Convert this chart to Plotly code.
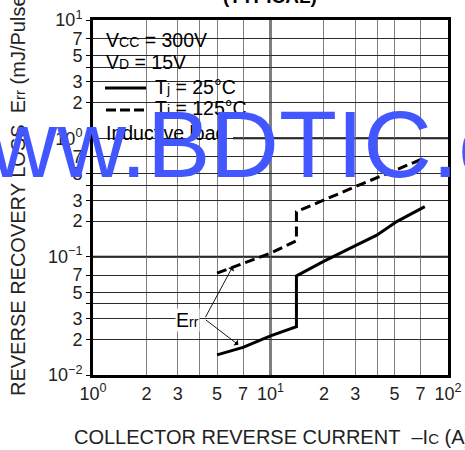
import math
import plotly.graph_objects as go

# ---------------- data ----------------
ic_25 = [5, 7, 10, 14, 14, 19.8, 29.3, 39.7, 51.4, 74]
err_25 = [0.0148, 0.0171, 0.0214, 0.0256, 0.0687, 0.0908, 0.1216, 0.152, 0.198, 0.265]
ic_125 = [5, 10, 14, 14, 30, 71]
err_125 = [0.0725, 0.107, 0.1365, 0.240, 0.39, 0.665]

x_tickvals = [1, 2, 3, 4, 5, 7, 10, 20, 30, 40, 50, 70, 100]
x_ticktext = ["10<sup>0</sup>", "2", "3", "", "5", "7", "10<sup>1</sup>",
              "2", "3", "", "5", "7", "10<sup>2</sup>"]
y_tickvals = [0.01, 0.02, 0.03, 0.04, 0.05, 0.07, 0.1, 0.2, 0.3, 0.4, 0.5, 0.7,
              1, 2, 3, 4, 5, 7, 10]
y_ticktext = ["10<sup>−2</sup>", "2", "3", "", "5", "7", "10<sup>−1</sup>",
              "2", "3", "", "5", "7", "10<sup>0</sup>", "2", "3", "", "5", "7",
              "10<sup>1</sup>"]
x_decades = [10]
y_decades = [0.1, 1]

# ---------------- layout geometry ----------------
W, H = 465, 450
ML, MR, MT, MB = 93, 17, 20, 75
PW, PH = W - ML - MR, H - MT - MB
XR = [0, 2]
YR = [-2, 1]
FONT = "Liberation Sans, Arial, Helvetica, sans-serif"


def px(xp):
    return (xp - ML) / PW


def py(yp):
    return (H - MB - yp) / PH


fig = go.Figure()

fig.add_trace(go.Scatter(x=ic_25, y=err_25, mode="lines",
                         line=dict(color="black", width=3), showlegend=False,
                         hoverinfo="skip"))
fig.add_trace(go.Scatter(x=ic_125, y=err_125, mode="lines",
                         line=dict(color="black", width=3, dash="10px,5px"),
                         showlegend=False, hoverinfo="skip"))

shapes = []
# decade grid lines (heavier)
for xv in x_decades:
    xp = (math.log10(xv) - XR[0]) / (XR[1] - XR[0])
    shapes.append(dict(type="line", xref="paper", yref="paper", x0=xp, x1=xp,
                       y0=0, y1=1, line=dict(color="black", width=2), layer="between"))
for yv in y_decades:
    yp = (math.log10(yv) - YR[0]) / (YR[1] - YR[0])
    shapes.append(dict(type="line", xref="paper", yref="paper", x0=0, x1=1,
                       y0=yp, y1=yp, line=dict(color="black", width=2), layer="between"))

# white legend background blocks (pixel boxes)
for (x0, y0, x1, y1) in [(94, 21, 203, 75), (94, 28, 213, 51), (94, 72, 250, 122),
                         (94, 120, 233, 145)]:
    shapes.append(dict(type="rect", xref="paper", yref="paper",
                       x0=px(x0), x1=px(x1), y0=py(y1), y1=py(y0),
                       fillcolor="white", line=dict(width=0), layer="between"))

# legend line samples
shapes.append(dict(type="line", xref="paper", yref="paper", x0=px(105), x1=px(146),
                   y0=py(88), y1=py(88), line=dict(color="black", width=3), layer="above"))
shapes.append(dict(type="line", xref="paper", yref="paper", x0=px(106), x1=px(146),
                   y0=py(110), y1=py(110), line=dict(color="black", width=3, dash="10px,4px"),
                   layer="above"))

annotations = []
small = "<span style='font-size:14px'>{}</span>"
legend_rows = [
    ("V" + small.format("CC") + " = 300V", 104, 39.5),
    ("V" + small.format("D") + " = 15V", 104, 61.7),
    ("T" + small.format("j") + " = 25°C", 153, 87.3),
    ("T" + small.format("j") + " = 125°C", 153, 108),
    ("Inductive load", 104, 132.5),
]
for txt, xl, yc in legend_rows:
    annotations.append(dict(text=txt, xref="paper", yref="paper", x=px(xl), y=py(yc),
                            xanchor="left", yanchor="middle", showarrow=False,
                            font=dict(family=FONT, size=19.5, color="black")))

# Err label with arrows
err_label_x, err_label_y = 3.41, 0.0292
arrow_tips = [(6.12, 0.0823, -28, 52), (6.59, 0.0180, -34, -26)]
for tx, ty, ax, ay in arrow_tips:
    annotations.append(dict(text="", x=math.log10(tx), y=math.log10(ty), xref="x", yref="y",
                            showarrow=True, ax=ax, ay=ay, arrowhead=1, arrowsize=1.3,
                            arrowwidth=0.9, arrowcolor="black", standoff=0))
annotations.append(dict(text="E" + small.format("rr"), x=math.log10(err_label_x),
                        y=math.log10(err_label_y), xref="x", yref="y", showarrow=False,
                        bgcolor="white", borderpad=0,
                        font=dict(family=FONT, size=19.5, color="black")))

# axis titles
annotations.append(dict(text="COLLECTOR REVERSE CURRENT\u00a0\u00a0–I"
                        + "<span style='font-size:15px'>C</span> (A)",
                        xref="paper", yref="paper", x=px(72), y=py(437), xanchor="left",
                        yanchor="middle", showarrow=False,
                        font=dict(family=FONT, size=20, color="#222")))
annotations.append(dict(text="REVERSE RECOVERY LOSS\u00a0\u00a0E"
                        + "<span style='font-size:15px'>rr</span> (mJ/Pulse)",
                        xref="paper", yref="paper", x=px(18.5), y=py(398), xanchor="center",
                        yanchor="bottom", textangle=-90, showarrow=False,
                        font=dict(family=FONT, size=20, color="#222")))
# top (cut) title
annotations.append(dict(text="<b>(TYPICAL)</b>", xref="paper", yref="paper", x=px(270),
                        y=py(-4), xanchor="center", yanchor="middle", showarrow=False,
                        font=dict(family=FONT, size=19, color="black")))
# watermark
annotations.append(dict(text="www.BDTIC.com",
                        xref="paper", yref="paper", x=px(278),
                        y=py(144), xanchor="center", yanchor="middle", showarrow=False,
                        font=dict(family=FONT, size=95, color="#4257ff")))

fig.update_layout(
    width=W, height=H, autosize=False,
    margin=dict(l=ML, r=MR, t=MT, b=MB, pad=0),
    paper_bgcolor="white", plot_bgcolor="white",
    template="none",
    shapes=shapes, annotations=annotations,
    font=dict(family=FONT, size=18, color="#222"),
    hovermode=False,
)
fig.update_xaxes(type="log", range=XR, tickmode="array", tickvals=x_tickvals,
                 ticktext=x_ticktext, showgrid=True, gridcolor="#7f7f7f", gridwidth=1.3,
                 showline=True, mirror=True, linecolor="black", linewidth=3,
                 ticks="", zeroline=False, tickfont=dict(size=18, color="#222"))
fig.update_yaxes(type="log", range=YR, tickmode="array", tickvals=y_tickvals,
                 ticktext=y_ticktext, showgrid=True, gridcolor="#2b2b2b", gridwidth=1.2,
                 showline=True, mirror=True, linecolor="black", linewidth=3,
                 ticks="outside", ticklen=4, tickcolor="black", zeroline=False,
                 tickfont=dict(size=18, color="#222"))

fig.write_html("out.html", config={"displayModeBar": False},
               post_script="document.body.style.margin='0';")
